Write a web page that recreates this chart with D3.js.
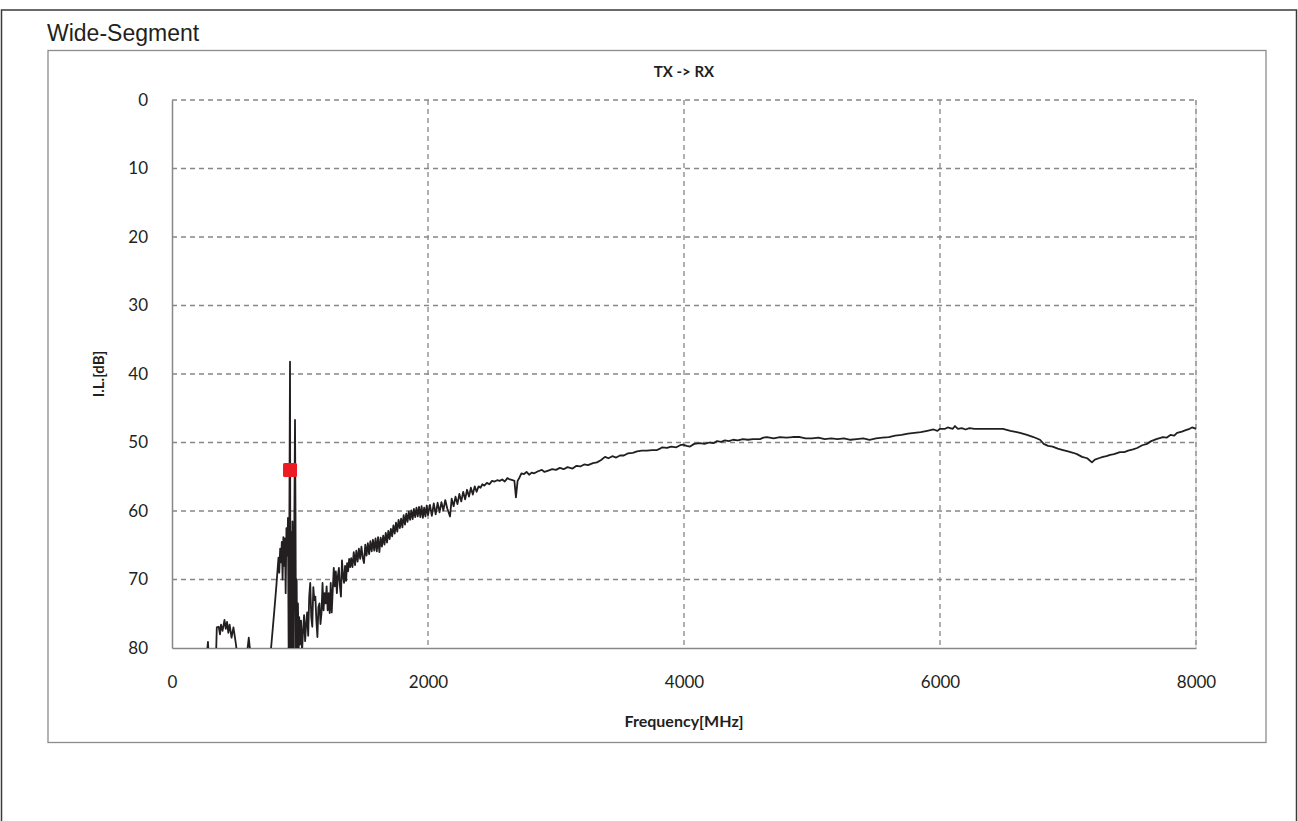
<!DOCTYPE html>
<html>
<head>
<meta charset="utf-8">
<script src="https://cdn.jsdelivr.net/npm/d3@7"></script>
<style>
  body { margin: 0; background: #fff; }
  svg { display: block; }
</style>
</head>
<body>
<svg id="chart" width="1298" height="821"></svg>
<script>
const width = 1298;
const height = 821;

// plot box inside the chart frame
const margin = {top: 100, right: 102, bottom: 173, left: 172};

// sweep: frequency (MHz) and insertion loss (dB)
const freqMHz = [
  250, 281, 300, 340, 350, 365, 375, 383, 395, 410, 420, 430, 440, 450, 465, 480, 500, 515, 560, 600, 640,
  760, 800, 815, 825, 832, 838, 845, 852, 858, 864, 870, 876, 882, 888, 894, 900, 906, 912, 917, 922, 926,
  931, 936, 941, 946, 951, 956, 961, 965, 969, 974, 979, 984, 989, 994,
  1000, 1008, 1016, 1024, 1032, 1040, 1048, 1056, 1064, 1072, 1080, 1088, 1096, 1104, 1112, 1120, 1128,
  1136, 1144, 1152, 1160, 1168, 1176, 1184, 1192, 1200, 1208, 1216, 1224, 1232, 1240, 1248, 1256, 1264,
  1272, 1280, 1288, 1296, 1304, 1312, 1320, 1328, 1336, 1344, 1352, 1360, 1368, 1376, 1384, 1392, 1400,
  1410, 1420, 1430, 1440, 1450, 1460, 1470, 1480, 1490, 1500, 1510, 1520, 1530, 1540, 1550, 1560, 1570,
  1580, 1590, 1600, 1610, 1620, 1630, 1640, 1650, 1660, 1670, 1680, 1690, 1700, 1710, 1720, 1730, 1740,
  1750, 1760, 1770, 1780, 1790, 1800, 1810, 1820, 1830, 1840, 1850, 1860, 1870, 1880, 1890, 1900, 1910,
  1920, 1930, 1940, 1950, 1960, 1970, 1980, 1990, 2000, 2015, 2030, 2045, 2060, 2075, 2090, 2105, 2120,
  2135, 2150, 2172, 2185, 2200, 2215, 2230, 2245, 2260, 2275, 2290, 2305, 2320, 2335, 2350, 2365, 2380,
  2395, 2410, 2425, 2440, 2460, 2480, 2500, 2520, 2540, 2560, 2580, 2600, 2620, 2640, 2660, 2675, 2687,
  2700, 2715, 2730, 2750, 2770, 2790, 2810, 2830, 2860, 2890, 2910, 2940, 2970, 3000, 3030, 3060, 3090,
  3130, 3160, 3190, 3220, 3250, 3289, 3320, 3350, 3383, 3410, 3440, 3470, 3500, 3530, 3560, 3600, 3633,
  3670, 3710, 3750, 3790, 3812, 3830, 3867, 3900, 3940, 3970, 3992, 4020, 4047, 4080, 4125, 4160, 4200,
  4230, 4258, 4290, 4320, 4350, 4383, 4420, 4460, 4500, 4540, 4594, 4620, 4648, 4700, 4750, 4800, 4850,
  4906, 4950, 5000, 5050, 5100, 5150, 5200, 5250, 5300, 5350, 5400, 5450, 5500, 5550, 5600, 5650, 5700,
  5750, 5800, 5850, 5900, 5950, 5980, 6000, 6040, 6060, 6100, 6117, 6140, 6170, 6200, 6230, 6270, 6330,
  6400, 6450, 6492, 6550, 6600, 6625, 6680, 6730, 6781, 6810, 6844, 6880, 6920, 6961, 7000, 7040, 7070,
  7110, 7150, 7187, 7210, 7240, 7273, 7300, 7330, 7360, 7406, 7440, 7470, 7508, 7540, 7580, 7617, 7650,
  7690, 7742, 7770, 7800, 7830, 7852, 7890, 7920, 7950, 7969, 8000
];

const lossDB = [
  86, 79.1, 86, 84, 77.0, 76.9, 78.0, 76.6, 77.5, 75.9, 77.2, 76.2, 77.8, 76.6, 78.5, 77.0, 79.5, 82, 85, 78.5, 86,
  83, 74.4, 71.0, 68.5, 66.8, 69.0, 65.5, 67.5, 64.5, 70.0, 63.8, 68.0, 64.0, 72.0, 62.5, 66.5, 61.0, 83.0, 60.3, 38.2, 84.0,
  63.0, 86.0, 61.5, 70.0, 85.0, 60.5, 46.7, 60.3, 84.0, 70.0, 86.0, 73.5, 81.0, 75.5,
  79.5, 76.0, 80.5, 77.5, 75.2, 79.0, 76.5, 74.8, 78.2, 72.5, 70.5, 75.5, 76.9, 71.1, 73.0, 72.5, 76.0,
  78.4, 74.0, 73.5, 76.5, 74.9, 70.5, 74.5, 72.0, 73.5, 71.0, 74.5, 72.0, 74.9, 70.5, 74.8, 71.5, 68.3,
  71.0, 68.8, 72.0, 69.5, 68.3, 71.0, 72.5, 67.2, 69.5, 70.5, 68.0, 70.2, 67.6, 68.8, 67.0, 68.2, 66.9,
  68.2, 66.0, 67.9, 65.8, 67.4, 65.5, 67.0, 65.2, 66.8, 67.6, 64.9, 66.5, 64.7, 66.3, 64.4, 65.9, 64.2,
  65.8, 64.0, 65.9, 63.8, 66.0, 63.9, 65.2, 63.6, 64.9, 63.2, 64.6, 62.9, 64.1, 62.6, 63.7, 62.1, 63.3,
  61.7, 63.0, 61.3, 62.5, 61.1, 62.4, 60.6, 62.0, 60.4, 61.6, 60.1, 61.3, 59.9, 61.2, 59.7, 60.9, 59.5,
  60.8, 59.4, 60.9, 59.3, 61.0, 59.5, 60.8, 59.2, 60.6, 59.1, 60.7, 58.9, 60.5, 58.8, 60.2, 58.7, 59.9,
  58.4, 59.6, 60.8, 58.2, 59.3, 57.9, 59.0, 57.5, 58.6, 57.2, 58.3, 56.9, 57.9, 56.6, 57.6, 56.4, 57.2,
  56.4, 56.6, 56.1, 56.3, 55.9, 56.1, 55.6, 55.7, 55.5, 55.6, 55.4, 55.7, 55.2, 55.4, 55.5, 55.6, 58.0,
  55.6, 55.1, 54.5, 54.6, 54.3, 54.7, 54.4, 54.5, 54.2, 54.0, 54.3, 54.1, 53.9, 54.0, 53.7, 53.9, 53.6,
  53.8, 53.4, 53.5, 53.2, 53.3, 53.0, 52.9, 52.6, 52.1, 52.3, 52.0, 52.2, 51.9, 51.9, 51.6, 51.5, 51.3,
  51.2, 51.2, 51.1, 51.1, 50.9, 50.7, 50.8, 50.6, 50.7, 50.4, 50.3, 50.5, 50.6, 50.2, 50.1, 50.2, 50.0,
  50.1, 49.8, 49.9, 49.7, 49.8, 49.6, 49.7, 49.5, 49.6, 49.5, 49.5, 49.3, 49.2, 49.4, 49.2, 49.3, 49.2,
  49.2, 49.4, 49.4, 49.3, 49.5, 49.4, 49.5, 49.4, 49.6, 49.5, 49.4, 49.6, 49.4, 49.3, 49.2, 49.0, 48.9,
  48.7, 48.6, 48.5, 48.3, 48.1, 48.3, 48.0, 48.0, 47.8, 48.0, 47.6, 48.0, 47.9, 48.1, 47.9, 48.0, 48.0,
  48.0, 48.0, 48.0, 48.3, 48.5, 48.6, 48.9, 49.2, 49.6, 50.2, 50.5, 50.6, 50.9, 51.1, 51.3, 51.5, 51.7,
  52.1, 52.3, 52.9, 52.5, 52.3, 52.1, 52.0, 51.8, 51.7, 51.4, 51.4, 51.2, 51.0, 50.8, 50.4, 50.2, 49.8,
  49.5, 49.2, 49.3, 48.9, 49.0, 48.6, 48.4, 48.2, 48.0, 47.8, 48.0
];

// spec marker
const markerFreq = [922];
const markerDB = [54];

const xTicks = [0, 2000, 4000, 6000, 8000];
const yTicks = [0, 10, 20, 30, 40, 50, 60, 70, 80];

const svg = d3.select("#chart");

const plotW = width - margin.left - margin.right;
const plotH = height - margin.top - margin.bottom;

const x = d3.scaleLinear().domain([0, 8000]).range([margin.left, margin.left + plotW]);
const y = d3.scaleLinear().domain([0, 80]).range([margin.top, margin.top + plotH]);

// outer border + chart frame
svg.append("rect")
    .attr("x", 1.5).attr("y", 10)
    .attr("width", 1295).attr("height", 840)
    .attr("fill", "none")
    .attr("stroke", "#3a3a3a")
    .attr("stroke-width", 1.5);

svg.append("rect")
    .attr("x", 48).attr("y", 50.5)
    .attr("width", 1218).attr("height", 692)
    .attr("fill", "#fff")
    .attr("stroke", "#8c8c8c")
    .attr("stroke-width", 1.3);

svg.append("text")
    .attr("x", 47).attr("y", 41)
    .style("font-family", "Liberation Sans, Arial, sans-serif")
    .style("font-size", "23px")
    .attr("fill", "#231f20")
    .text("Wide-Segment");

// gridlines
const grid = svg.append("g");
grid.append("line")
    .attr("x1", x(8000)).attr("x2", x(8000))
    .attr("y1", y(0)).attr("y2", y(80))
    .attr("stroke", "#dcdcdc").attr("stroke-width", 1.5);

grid.selectAll(".hg")
    .data(yTicks.filter(d => d < 80))
    .enter().append("line")
    .attr("x1", x(0)).attr("x2", x(8000))
    .attr("y1", d => y(d)).attr("y2", d => y(d))
    .attr("stroke", "#878787").attr("stroke-width", 1.3)
    .attr("stroke-dasharray", "5,4");

grid.selectAll(".vg")
    .data(xTicks.filter(d => d > 0))
    .enter().append("line")
    .attr("x1", d => x(d)).attr("x2", d => x(d))
    .attr("y1", y(0)).attr("y2", y(80))
    .attr("stroke", "#878787").attr("stroke-width", 1.3)
    .attr("stroke-dasharray", "5,4");

// axes (no tick marks, only labels)
const xAxis = d3.axisBottom(x).tickValues(xTicks).tickFormat(d3.format("d")).tickSize(0).tickPadding(28);
const yAxis = d3.axisLeft(y).tickValues(yTicks).tickFormat(d3.format("d")).tickSize(0).tickPadding(24);

const gx = svg.append("g")
    .attr("transform", `translate(0,${y(80)})`)
    .call(xAxis);
const gy = svg.append("g")
    .attr("transform", `translate(${x(0)},0)`)
    .call(yAxis);

[gx, gy].forEach(g => {
  g.select(".domain").attr("stroke", "#878787").attr("stroke-width", 1.5);
  g.selectAll("text")
    .style("font-family", "Lato, Carlito, sans-serif")
    .style("font-size", "17px")
    .style("font-weight", "400")
    .attr("fill", "#231f20");
});

// clip the trace to the plot box
svg.append("clipPath").attr("id", "plot-clip")
  .append("rect")
    .attr("x", x(0)).attr("y", y(0))
    .attr("width", plotW).attr("height", plotH);

const series = freqMHz.map((f, i) => ({f: f, v: lossDB[i]}));

const line = d3.line()
    .x(d => x(d.f))
    .y(d => y(d.v));

svg.append("path")
    .datum(series)
    .attr("clip-path", "url(#plot-clip)")
    .attr("fill", "none")
    .attr("stroke", "#231f20")
    .attr("stroke-width", 1.8)
    .attr("stroke-linejoin", "round")
    .attr("d", line);

svg.selectAll(".marker")
    .data(markerFreq.map((f, i) => ({f: f, v: markerDB[i]})))
    .enter().append("rect")
    .attr("class", "marker")
    .attr("x", d => x(d.f) - 7)
    .attr("y", d => y(d.v) - 7)
    .attr("width", 14).attr("height", 14)
    .attr("rx", 1.5)
    .attr("fill", "#ed1c24");

// titles
svg.append("text")
    .attr("x", x(4000)).attr("y", 77)
    .attr("text-anchor", "middle")
    .style("font-family", "Lato, Carlito, sans-serif")
    .style("font-size", "15px")
    .style("font-weight", "bold")
    .attr("fill", "#231f20")
    .text("TX -> RX");

svg.append("text")
    .attr("x", x(4000)).attr("y", 727)
    .attr("text-anchor", "middle")
    .style("font-family", "Lato, Carlito, sans-serif")
    .style("font-size", "16px")
    .style("font-weight", "bold")
    .attr("fill", "#231f20")
    .text("Frequency[MHz]");

svg.append("text")
    .attr("transform", `translate(104,${(y(0) + y(80)) / 2}) rotate(-90)`)
    .attr("text-anchor", "middle")
    .style("font-family", "Lato, Carlito, sans-serif")
    .style("font-size", "15px")
    .style("font-weight", "bold")
    .attr("fill", "#231f20")
    .text("I.L.[dB]");
</script>
</body>
</html>
